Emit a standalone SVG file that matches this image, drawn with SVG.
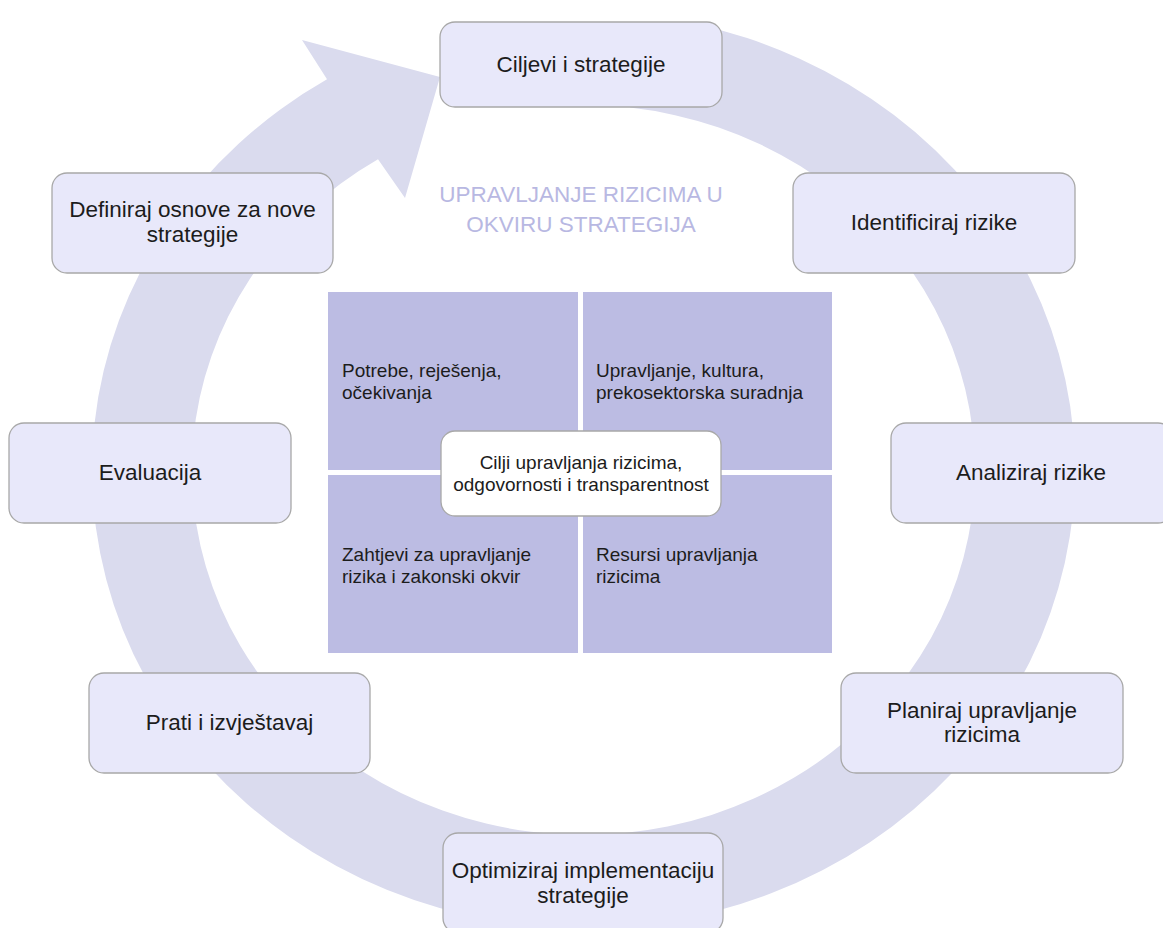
<svg xmlns="http://www.w3.org/2000/svg" width="1163" height="928" viewBox="0 0 1163 928">
<style>
.node rect{fill:#E8E8FA;stroke:#A8A8A8;stroke-width:1.3}
.nt{font-family:"Liberation Sans",Arial,sans-serif;font-size:22.5px;fill:#1c1c1c;text-anchor:middle}
.q{fill:#BCBCE3}
.qt{font-family:"Liberation Sans",Arial,sans-serif;font-size:19px;fill:#1c1c1c}
.title{font-family:"Liberation Sans",Arial,sans-serif;font-size:22.5px;fill:#B8B8E2;text-anchor:middle}
</style>
<rect width="1163" height="928" fill="#FFFFFF"/>
<g id="connectors">
<path d="M693,23.5 A491.5 458 0 1 1 327,79.3 L302,40 L440,77 L405,198 L378,159.3 A391.5 365 0 1 0 630,107.6 Z" fill="#DADBEE"/>
</g>
<g id="title">
<text class="title" x="581" y="202">UPRAVLJANJE RIZICIMA U</text>
<text class="title" x="581" y="232">OKVIRU STRATEGIJA</text>
</g>
<g id="quadrants">
<g id="q-tl"><rect class="q" x="328" y="292" width="250" height="178"/>
<text class="qt" x="342" y="377">Potrebe, reješenja,</text><text class="qt" x="342" y="398.5">očekivanja</text></g>
<g id="q-tr"><rect class="q" x="583" y="292" width="249" height="178"/>
<text class="qt" x="596" y="377">Upravljanje, kultura,</text><text class="qt" x="596" y="398.5">prekosektorska suradnja</text></g>
<g id="q-bl"><rect class="q" x="328" y="475" width="250" height="178"/>
<text class="qt" x="342" y="561">Zahtjevi za upravljanje</text><text class="qt" x="342" y="582.5">rizika i zakonski okvir</text></g>
<g id="q-br"><rect class="q" x="583" y="475" width="249" height="178"/>
<text class="qt" x="596" y="561">Resursi upravljanja</text><text class="qt" x="596" y="582.5">rizicima</text></g>
</g>
<g id="center">
<rect x="441" y="431" width="280" height="85" rx="14" fill="#FFFFFF" stroke="#A8A8A8" stroke-width="1.3"/>
<text class="qt" x="581" y="469" text-anchor="middle">Cilji upravljanja rizicima,</text>
<text class="qt" x="581" y="491" text-anchor="middle">odgovornosti i transparentnost</text>
</g>
<g id="n1" class="node"><rect x="440" y="22" width="282" height="85" rx="15"/><text class="nt" x="581" y="72">Ciljevi i strategije</text></g>
<g id="n2" class="node"><rect x="793" y="173" width="282" height="100" rx="15"/><text class="nt" x="934" y="230">Identificiraj rizike</text></g>
<g id="n3" class="node"><rect x="891" y="423" width="282" height="100" rx="15"/><text class="nt" x="1031" y="480">Analiziraj rizike</text></g>
<g id="n4" class="node"><rect x="841" y="673" width="282" height="100" rx="15"/><text class="nt" x="982" y="718">Planiraj upravljanje</text><text class="nt" x="982" y="742">rizicima</text></g>
<g id="n5" class="node"><rect x="443" y="833" width="280" height="100" rx="15"/><text class="nt" x="583" y="878">Optimiziraj implementaciju</text><text class="nt" x="583" y="903">strategije</text></g>
<g id="n6" class="node"><rect x="89" y="673" width="281" height="100" rx="15"/><text class="nt" x="229.5" y="730">Prati i izvještavaj</text></g>
<g id="n7" class="node"><rect x="9" y="423" width="282" height="100" rx="15"/><text class="nt" x="150" y="480">Evaluacija</text></g>
<g id="n8" class="node"><rect x="52" y="173" width="281" height="100" rx="15"/><text class="nt" x="192.5" y="217">Definiraj osnove za nove</text><text class="nt" x="192.5" y="242">strategije</text></g>
</svg>
